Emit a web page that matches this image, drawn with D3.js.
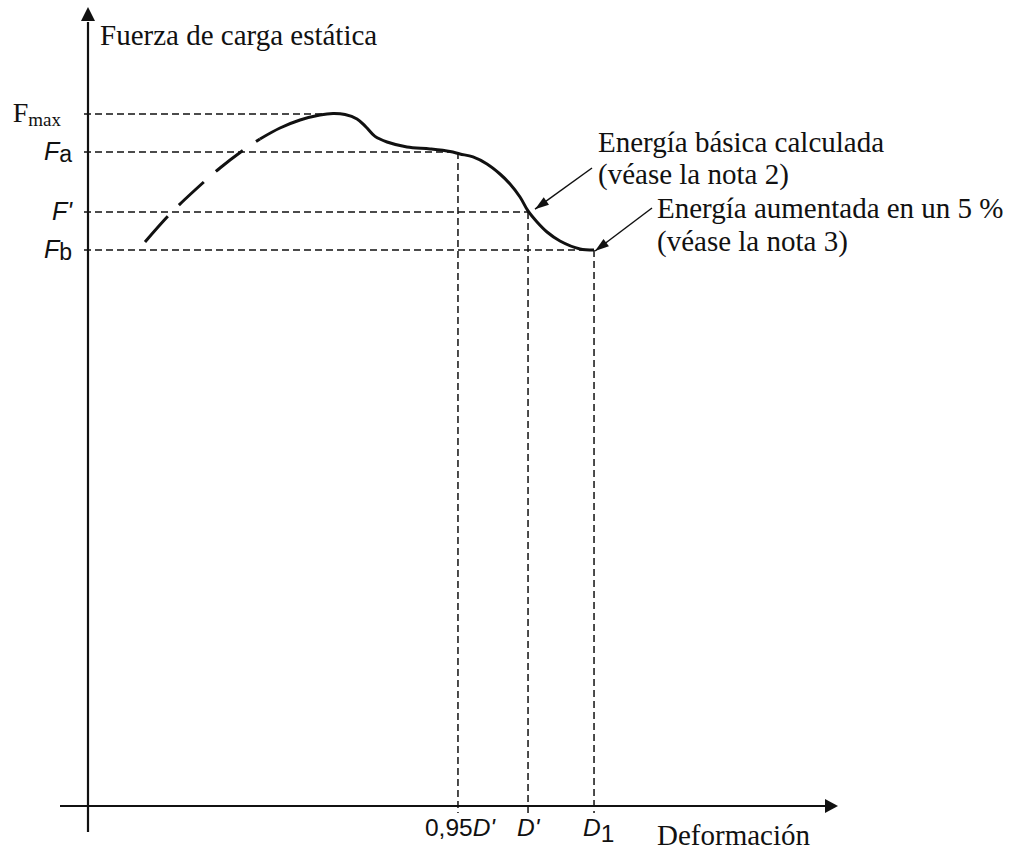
<!DOCTYPE html>
<html>
<head>
<meta charset="utf-8">
<script src="https://cdn.jsdelivr.net/npm/d3@7"></script>
<style>
  html, body { margin: 0; padding: 0; background: #fff; }
  svg { display: block; }
  .serif { font-family: "Liberation Serif", "Times New Roman", serif; fill: #111; }
  .sans { font-family: "Liberation Sans", Arial, sans-serif; fill: #111; }
</style>
</head>
<body>
<svg id="chart" width="1011" height="854"></svg>
<script>
// ---------- DATA (arbitrary deformation / force units) ----------
// Initial (dashed) part of the load-deformation curve
const dashedDeformation = [7.6, 10.93, 14.27, 17.6, 20.93, 22.93];
const dashedForce       = [70.5, 74.0, 77.0, 79.75, 82.13, 83.38];

// Measured (solid) part of the curve
const solidDeformation = [22.93, 25.6, 28.27, 30.93, 32.67, 34.27, 35.87, 37.07, 38.27, 39.87, 42.53,
                          45.6, 48.27, 49.6, 51.33, 53.2, 54.93, 56.27, 57.6, 58.67, 59.87,
                          61.2, 62.93, 65.6, 67.47];
const solidForce       = [83.38, 84.75, 85.75, 86.38, 86.56, 86.44, 85.88, 84.88, 83.7, 83.0, 82.38,
                          82.13, 81.81, 81.5, 81.13, 80.25, 79.0, 77.75, 76.13, 74.38, 73.0,
                          71.75, 70.63, 69.63, 69.5];

// Reference force levels (y) and their labels
const forceLevels = [86.5, 81.75, 74.25, 69.5];
const forceLabels = ["Fmax", "Fa", "F'", "Fb"];
// x extent of each horizontal guide (where it meets the curve)
const forceLevelEnds = [33.6, 49.33, 58.67, 67.47];

// Reference deformations (x) and their labels
const deformLevels = [49.33, 58.67, 67.47];
const deformLabels = ["0,95D'", "D'", "D1"];
const deformLevelTops = [81.75, 74.25, 69.5];

const yAxisTitle = "Fuerza de carga estática";
const xAxisTitle = "Deformación";
const note2Lines = ["Energía básica calculada", "(véase la nota 2)"];
const note3Lines = ["Energía aumentada en un 5 %", "(véase la nota 3)"];

// ---------- SCALES ----------
const x = d3.scaleLinear().domain([0, 100]).range([88, 838]);
const y = d3.scaleLinear().domain([0, 100]).range([806, 6]);

const svg = d3.select("#chart");
const ink = "#111";

// ---------- GUIDES ----------
const guides = svg.append("g")
  .attr("stroke", ink).attr("stroke-width", 1.5).attr("stroke-dasharray", "7,4").attr("fill", "none");

forceLevels.forEach((v, i) => {
  guides.append("line")
    .attr("x1", x(0) - 4).attr("x2", x(forceLevelEnds[i]))
    .attr("y1", y(v)).attr("y2", y(v));
});
deformLevels.forEach((v, i) => {
  guides.append("line")
    .attr("x1", x(v)).attr("x2", x(v))
    .attr("y1", y(deformLevelTops[i])).attr("y2", y(0) + 7);
});

// ---------- AXES ----------
const axes = svg.append("g").attr("stroke", ink).attr("stroke-width", 2.2);
axes.append("line").attr("x1", x(0)).attr("x2", x(0)).attr("y1", y(98)).attr("y2", y(0) + 26);
axes.append("line").attr("x1", x(0) - 28).attr("x2", x(99)).attr("y1", y(0)).attr("y2", y(0));
// arrowheads
svg.append("path").attr("fill", ink)
  .attr("d", `M${x(0)},${y(100) + 1} L${x(0) - 7},${y(100) + 15} L${x(0) + 7},${y(100) + 15} Z`);
svg.append("path").attr("fill", ink)
  .attr("d", `M${x(100)},${y(0)} L${x(100) - 13},${y(0) - 7} L${x(100) - 13},${y(0) + 7} Z`);

// ---------- CURVE ----------
const line = d3.line().x(d => x(d[0])).y(d => y(d[1])).curve(d3.curveCatmullRom.alpha(0.5));
svg.append("path")
  .datum(dashedDeformation.map((d, i) => [d, dashedForce[i]]))
  .attr("d", line).attr("fill", "none").attr("stroke", ink)
  .attr("stroke-width", 3).attr("stroke-dasharray", "34,16");
svg.append("path")
  .datum(solidDeformation.map((d, i) => [d, solidForce[i]]))
  .attr("d", line).attr("fill", "none").attr("stroke", ink)
  .attr("stroke-width", 3).attr("stroke-linejoin", "round");

// ---------- ANNOTATION ARROWS ----------
function arrow(x1, y1, x2, y2) {
  svg.append("line").attr("x1", x1).attr("y1", y1).attr("x2", x2).attr("y2", y2)
    .attr("stroke", ink).attr("stroke-width", 1.5);
  const a = Math.atan2(y2 - y1, x2 - x1), L = 14, W = 4.5;
  const bx = x2 - L * Math.cos(a), by = y2 - L * Math.sin(a);
  const px = -Math.sin(a) * W, py = Math.cos(a) * W;
  svg.append("path").attr("fill", ink)
    .attr("d", `M${x2},${y2} L${bx + px},${by + py} L${bx - px},${by - py} Z`);
}
arrow(x(67.2), y(79.75), x(59.6), y(74.6));
arrow(x(75.2), y(74.75), x(67.47) + 1, y(69.5) + 1);

// ---------- TEXT ----------
const serifSize = 29;
svg.append("text").attr("class", "serif").attr("font-size", serifSize)
  .attr("x", x(0) + 12).attr("y", 45).text(yAxisTitle);
svg.append("text").attr("class", "serif").attr("font-size", serifSize)
  .attr("x", 657).attr("y", 845).text(xAxisTitle);

note2Lines.forEach((t, i) => {
  svg.append("text").attr("class", "serif").attr("font-size", serifSize)
    .attr("x", 598).attr("y", 152 + i * 32).text(t);
});
note3Lines.forEach((t, i) => {
  svg.append("text").attr("class", "serif").attr("font-size", serifSize)
    .attr("x", 657).attr("y", 218 + i * 33).text(t);
});

// Y level labels
forceLabels.forEach((lab, i) => {
  const yy = y(forceLevels[i]);
  if (lab === "Fmax") {
    const t = svg.append("text").attr("class", "serif").attr("text-anchor", "end")
      .attr("x", 61).attr("y", yy + 8);
    t.append("tspan").attr("font-size", 28).text("F");
    t.append("tspan").attr("font-size", 19).attr("dy", 4).text("max");
  } else {
    const t = svg.append("text").attr("class", "sans").attr("text-anchor", "end")
      .attr("x", 72).attr("y", yy + 8);
    t.append("tspan").attr("font-size", 25).attr("font-style", "italic").text("F");
    if (lab.length > 1) {
      if (lab[1] === "'") {
        t.append("tspan").attr("font-size", 25).attr("font-style", "italic").text("'");
      } else {
        t.append("tspan").attr("font-size", 23).attr("dy", 2).text(lab[1]);
      }
    }
  }
});

// X level labels
deformLabels.forEach((lab, i) => {
  const xx = x(deformLevels[i]);
  const t = svg.append("text").attr("class", "sans").attr("y", y(0) + 30).attr("font-size", 24.5);
  if (lab === "0,95D'") {
    t.attr("x", xx - 33);
    t.append("tspan").text("0,95");
    t.append("tspan").attr("font-style", "italic").text("D'");
  } else if (lab === "D'") {
    t.attr("x", xx - 11);
    t.append("tspan").attr("font-style", "italic").text("D'");
  } else {
    t.attr("x", xx - 11);
    t.append("tspan").attr("font-style", "italic").text("D");
    t.append("tspan").attr("dy", 6).text("1");
  }
});
</script>
</body>
</html>
